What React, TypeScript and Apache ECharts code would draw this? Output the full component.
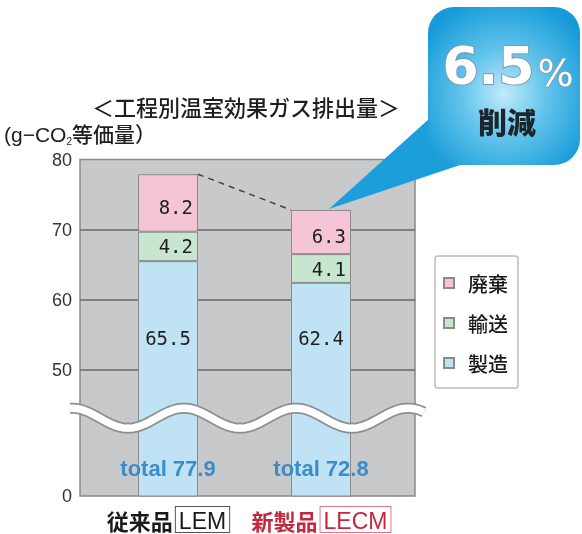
import React, { useEffect, useRef } from 'react';
import * as echarts from 'echarts';

// ---- data ----
const categories = ['従来品', '新製品'];
const codeNames = ['LEM', 'LECM'];
const manufacturing = [65.5, 62.4]; // 製造
const transport = [4.2, 4.1]; // 輸送
const disposal = [8.2, 6.3]; // 廃棄
const totals = [77.9, 72.8];
const yTickLabels = [50, 60, 70, 80];
const legendOrder = ['廃棄', '輸送', '製造'];
const reductionPct = '6.5';

// broken axis: real 0 is drawn at display value AXIS_FLOOR
const AXIS_FLOOR = 32;
const AXIS_MAX = 80;
const BREAK_LEVEL = 43.1;
const BAR_WIDTH = 60;

const CJK = 'Noto Sans CJK JP';
const LATIN = 'Liberation Sans';
const MONO = 'DejaVu Sans Mono';

const barBorder = { borderColor: '#8a8a8a', borderWidth: 1 };
const valueLabel = {
  show: true,
  fontFamily: MONO,
  fontSize: 19,
  color: '#1e1e1e',
  formatter: (p: any) => Number(p.value).toFixed(1),
};

const option: any = {
  animation: false,
  title: [
    {
      text: '＜工程別温室効果ガス排出量＞',
      left: 92,
      top: 95,
      padding: 0,
      textStyle: { fontSize: 22, fontWeight: 500, color: '#1e1e1e', fontFamily: CJK },
    },
    {
      text: '{a|(g−CO}{s|2}{a|等価量）}',
      left: 4,
      top: 123,
      padding: 0,
      textStyle: {
        fontWeight: 'normal',
        rich: {
          a: { fontSize: 21, fontWeight: 500, color: '#1e1e1e', fontFamily: `${LATIN}, ${CJK}`, lineHeight: 23 },
          s: { fontSize: 10, fontWeight: 'normal', color: '#1e1e1e', fontFamily: LATIN, verticalAlign: 'bottom', lineHeight: 23 },
        },
      },
    },
  ],
  legend: {
    orient: 'vertical',
    left: 435,
    top: 256,
    data: legendOrder,
    icon: 'rect',
    itemWidth: 10,
    itemHeight: 10,
    itemGap: 20,
    padding: [17, 10, 15, 8],
    backgroundColor: '#fff',
    borderColor: '#9a9a9a',
    borderWidth: 1,
    borderRadius: 2,
    selectedMode: false,
    formatter: (n: string) => `{t|${n}}`,
    textStyle: {
      rich: { t: { fontSize: 20, fontWeight: 500, fontFamily: CJK, color: '#1a1a1a', padding: [0, 0, 0, 9] } },
    },
  },
  grid: [
    {
      left: 80,
      right: 167,
      top: 159.5,
      bottom: 38,
      show: true,
      backgroundColor: '#c8c9cb',
      borderColor: '#8a8b8d',
      borderWidth: 1.5,
      outerBoundsMode: 'none',
    },
    { left: 91.5, right: 184.5, top: 159.5, bottom: 38, outerBoundsMode: 'none' },
  ],
  xAxis: [
    { type: 'value', gridIndex: 0, min: 0, max: 1, show: false },
    {
      type: 'category',
      gridIndex: 1,
      data: categories,
      axisLine: { show: false },
      axisTick: { show: false },
      axisLabel: {
        interval: 0,
        hideOverlap: false,
        margin: 11,
        formatter: (v: string, i: number) => `{n${i}|${v}}{b${i}|${codeNames[i]}}`,
        rich: {
          n0: { fontSize: 22, fontWeight: 'bold', color: '#1a1a1a', fontFamily: CJK, padding: [0, 3, 0, 0] },
          b0: {
            fontSize: 23, color: '#1a1a1a', fontFamily: LATIN, borderColor: '#555', borderWidth: 1,
            backgroundColor: '#fff', padding: [2, 3, 0, 3],
          },
          n1: { fontSize: 22, fontWeight: 'bold', color: '#c3283c', fontFamily: CJK, padding: [0, 3, 0, 0] },
          b1: {
            fontSize: 23, color: '#c3283c', fontFamily: LATIN, borderColor: '#d77a88', borderWidth: 1,
            backgroundColor: '#fff', padding: [2, 3, 0, 3],
          },
        },
      },
    },
  ],
  yAxis: [
    {
      type: 'value',
      gridIndex: 0,
      min: AXIS_FLOOR,
      max: AXIS_MAX,
      interval: 2,
      axisLine: { show: false },
      axisTick: { show: false },
      splitLine: { show: false },
      axisLabel: {
        margin: 8,
        fontSize: 18,
        color: '#333',
        fontFamily: LATIN,
        formatter: (v: number) =>
          v === AXIS_FLOOR ? '0' : yTickLabels.includes(v) ? String(v) : '',
      },
    },
    { type: 'value', gridIndex: 1, min: AXIS_FLOOR, max: AXIS_MAX, show: false },
  ],
  series: [
    {
      type: 'line',
      xAxisIndex: 0,
      yAxisIndex: 0,
      data: [],
      z: 1,
      silent: true,
      markLine: {
        z: 1,
        silent: true,
        symbol: 'none',
        label: { show: false },
        lineStyle: { color: '#666', width: 1.5, type: 'solid' },
        data: yTickLabels.filter((v) => v < AXIS_MAX).map((v) => ({ yAxis: v })),
      },
    },
    {
      name: '製造',
      type: 'bar',
      xAxisIndex: 1,
      yAxisIndex: 1,
      stack: 'total',
      barWidth: BAR_WIDTH,
      z: 3,
      data: manufacturing,
      itemStyle: { color: '#bfe3f5', ...barBorder },
      label: { ...valueLabel, position: 'insideBottom', distance: 149 },
    },
    {
      name: '輸送',
      type: 'bar',
      xAxisIndex: 1,
      yAxisIndex: 1,
      stack: 'total',
      barWidth: BAR_WIDTH,
      z: 3,
      data: transport,
      itemStyle: { color: '#c8e6cf', ...barBorder },
      label: { ...valueLabel, position: 'insideRight', distance: 5 },
    },
    {
      name: '廃棄',
      type: 'bar',
      xAxisIndex: 1,
      yAxisIndex: 1,
      stack: 'total',
      barWidth: BAR_WIDTH,
      z: 3,
      data: disposal,
      itemStyle: { color: '#f5c5d7', ...barBorder },
      label: { ...valueLabel, position: 'insideRight', distance: 5, offset: [0, 4] },
    },
    {
      name: 'total',
      type: 'bar',
      xAxisIndex: 1,
      yAxisIndex: 1,
      barGap: '-100%',
      barWidth: BAR_WIDTH,
      z: 4,
      silent: true,
      data: totals,
      itemStyle: { color: 'rgba(0,0,0,0)' },
      label: {
        show: true,
        position: 'insideBottom',
        distance: 17,
        formatter: (p: any) => `total ${p.value}`,
        color: '#3b8dc8',
        fontSize: 22,
        fontWeight: 'bold',
        fontFamily: LATIN,
      },
    },
  ],
};

export default function App() {
  const ref = useRef<HTMLDivElement>(null);
  useEffect(() => {
    const chart = echarts.init(ref.current as HTMLDivElement, null, { renderer: 'svg' });
    chart.setOption(option);

    const barTop = (i: number) =>
      chart.convertToPixel({ xAxisIndex: 1, yAxisIndex: 1 }, [categories[i], totals[i]]) as number[];
    const p1 = barTop(0);
    const p2 = barTop(1);
    const left = chart.convertToPixel({ xAxisIndex: 0 }, 0) as number;
    const right = chart.convertToPixel({ xAxisIndex: 0 }, 1) as number;
    const yc = chart.convertToPixel({ yAxisIndex: 0 }, BREAK_LEVEL) as number;

    const wave: number[][] = [];
    for (let x = left - 10; x <= right + 10; x += 2) {
      wave.push([x, yc - 10 * Math.cos((2 * Math.PI * (x - (left - 8))) / 112)]);
    }

    const tip = [p2[0] + 8, p2[1] - 1];
    const bx = 428, by = 7, bw = 152, bh = 158;

    chart.setOption({
      graphic: [
        {
          type: 'line',
          z: 20,
          shape: { x1: p1[0] + BAR_WIDTH / 2, y1: p1[1], x2: p2[0] - BAR_WIDTH / 2, y2: p2[1] },
          style: { stroke: '#444', lineWidth: 1.5, lineDash: [6, 5] },
        },
        {
          type: 'polyline',
          z: 21,
          shape: { points: wave },
          style: { stroke: '#8e8e8e', lineWidth: 11, fill: null },
        },
        {
          type: 'polyline',
          z: 22,
          shape: { points: wave },
          style: { stroke: '#ffffff', lineWidth: 7.5, fill: null },
        },
        {
          type: 'polygon',
          z: 30,
          shape: { points: [tip, [bx + 2, by + 111], [bx + 32, by + bh]] },
          style: { fill: '#1b9ed9' },
        },
        {
          type: 'rect',
          z: 31,
          shape: { x: bx, y: by, width: bw, height: bh, r: 26 },
          style: {
            fill: new echarts.graphic.RadialGradient(0.5, 0.55, 0.62, [
              { offset: 0, color: '#c2ebfb' },
              { offset: 0.45, color: '#62c4ec' },
              { offset: 1, color: '#169bd8' },
            ]),
          },
        },
        {
          type: 'text',
          z: 32,
          x: bx + 80,
          y: by + 59,
          style: {
            text: `{d|${reductionPct}}{c|%}`,
            align: 'center',
            verticalAlign: 'middle',
            rich: {
              d: {
                fontSize: 52, fontWeight: 'bold', fontFamily: 'DejaVu Sans', fill: '#fff',
                stroke: '#7f9aa8', lineWidth: 2, lineHeight: 52,
              },
              c: {
                fontSize: 38, fontFamily: 'DejaVu Sans', fill: '#fff', stroke: '#7f9aa8', lineWidth: 1.5,
                lineHeight: 40, verticalAlign: 'bottom', padding: [0, 0, 0, 3],
              },
            },
          },
        },
        {
          type: 'text',
          z: 32,
          x: bx + 79,
          y: by + 114,
          style: {
            text: '削減',
            align: 'center',
            verticalAlign: 'middle',
            fontSize: 29,
            fontWeight: 900,
            fontFamily: CJK,
            fill: '#1c262c',
          },
        },
      ],
    });
    return () => chart.dispose();
  }, []);
  return <div ref={ref} style={{ position: 'fixed', left: 0, top: 0, width: 582, height: 534 }} />;
}
